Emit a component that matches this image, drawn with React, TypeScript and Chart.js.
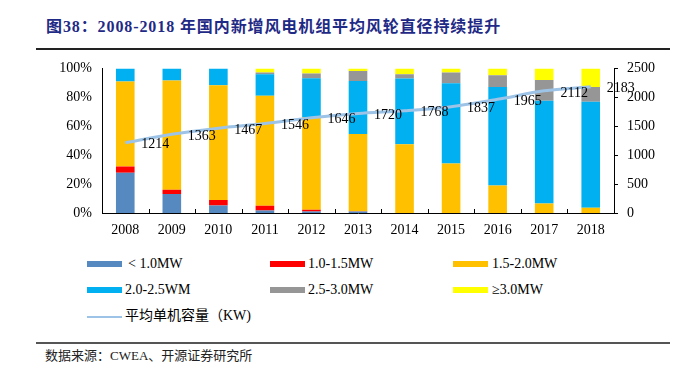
import React, { useEffect, useRef } from "react";
import { Chart, registerables } from "chart.js";

Chart.register(...registerables);

const years = ["2008", "2009", "2010", "2011", "2012", "2013", "2014", "2015", "2016", "2017", "2018"];
const below1 = [27.8, 13.1, 5.2, 1.8, 1.1, 1.0, 0, 0, 0, 0, 0];
const mw10to15 = [4.3, 2.9, 3.8, 3.2, 1.2, 0.2, 0, 0, 0, 0, 0];
const mw15to20 = [58.9, 75.6, 79.3, 76.0, 64.1, 53.4, 47.6, 34.3, 19.0, 6.5, 3.6];
const mw20to25 = [9.0, 8.4, 11.7, 14.9, 26.8, 36.6, 45.4, 55.5, 68.1, 71.2, 73.4];
const mw25to30 = [0, 0, 0, 1.2, 3.2, 7.0, 2.9, 7.3, 8.2, 14.2, 10.1];
const mwAbove3 = [0, 0, 0, 2.9, 3.6, 1.8, 4.1, 2.9, 4.7, 8.1, 12.9];
const avgCapacity = [1214, 1363, 1467, 1546, 1646, 1720, 1768, 1837, 1965, 2112, 2183];
const leftTicks = [0, 20, 40, 60, 80, 100];
const rightTicks = [0, 500, 1000, 1500, 2000, 2500];

const seriesNames = ["< 1.0MW", "1.0-1.5MW", "1.5-2.0MW", "2.0-2.5WM", "2.5-3.0MW", "≥3.0MW"];
const seriesColors = ["#5589BF", "#FF0000", "#FFC000", "#00B0F0", "#969696", "#FFFF00"];
const lineName = "平均单机容量（KW)";
const lineColor = "#9DC3E6";

const SERIF = '"Liberation Serif", "Times New Roman", "Noto Sans CJK SC", serif';

const labelPlugin = {
  id: "lineLabels",
  afterDatasetsDraw(chart: any) {
    const ctx = chart.ctx;
    const idx = chart.data.datasets.findIndex((d: any) => d.type === "line");
    if (idx < 0) return;
    const meta = chart.getDatasetMeta(idx);
    ctx.save();
    ctx.font = "14px " + SERIF;
    ctx.fillStyle = "#000";
    ctx.textAlign = "center";
    ctx.textBaseline = "middle";
    meta.data.forEach((pt: any, i: number) => {
      ctx.fillText(String(chart.data.datasets[idx].data[i]), pt.x + 30, pt.y + 2);
    });
    ctx.restore();
  },
};

const xTickPlugin = {
  id: "xInnerTicks",
  afterDraw(chart: any) {
    const ctx = chart.ctx;
    const xs = chart.scales.x;
    const bottom = chart.chartArea.bottom;
    const n = chart.data.labels.length;
    ctx.save();
    ctx.strokeStyle = "#000";
    ctx.lineWidth = 1;
    for (let i = 1; i < n; i++) {
      const x = Math.round((xs.getPixelForValue(i - 1) + xs.getPixelForValue(i)) / 2) + 0.5;
      ctx.beginPath();
      ctx.moveTo(x, bottom);
      ctx.lineTo(x, bottom - 4);
      ctx.stroke();
    }
    ctx.restore();
  },
};

export default function App() {
  const ref = useRef<HTMLCanvasElement | null>(null);

  useEffect(() => {
    if (!ref.current) return;
    const barData = [below1, mw10to15, mw15to20, mw20to25, mw25to30, mwAbove3];
    const datasets: any[] = barData.map((d, i) => ({
      type: "bar",
      label: seriesNames[i],
      data: d,
      backgroundColor: seriesColors[i],
      stack: "s",
      yAxisID: "y",
      order: 1,
      barPercentage: 0.4,
      categoryPercentage: 1,
      borderWidth: 0,
    }));
    datasets.push({
      type: "line",
      label: lineName,
      data: avgCapacity,
      borderColor: lineColor,
      backgroundColor: lineColor,
      borderWidth: 3,
      pointRadius: 0,
      tension: 0.3,
      yAxisID: "y1",
      order: 0,
    });
    const chart = new Chart(ref.current, {
      type: "bar",
      data: { labels: years, datasets },
      options: {
        animation: false,
        responsive: false,
        maintainAspectRatio: false,
        layout: { padding: { top: 16, left: 0, right: 0, bottom: 0 } },
        plugins: { legend: { display: false }, tooltip: { enabled: false } },
        scales: {
          x: {
            stacked: true,
            grid: { display: false, drawTicks: false },
            border: { display: true, color: "#000", width: 1 },
            ticks: { font: { family: SERIF, size: 14 }, color: "#000", padding: 9, maxRotation: 0 },
            afterFit: (s: any) => { s.height = 32; },
          },
          y: {
            stacked: true,
            position: "left",
            min: 0,
            max: 100,
            afterBuildTicks: (s: any) => { s.ticks = leftTicks.map((v) => ({ value: v })); },
            grid: { display: false, drawTicks: false },
            border: { display: true, color: "#000", width: 1 },
            ticks: { font: { family: SERIF, size: 14 }, color: "#000", padding: 10, callback: (v: any) => v + "%" },
            afterFit: (s: any) => { s.width = 102; },
          },
          y1: {
            position: "right",
            min: 0,
            max: 2500,
            afterBuildTicks: (s: any) => { s.ticks = rightTicks.map((v) => ({ value: v })); },
            grid: { display: true, drawOnChartArea: false, drawTicks: true, tickLength: 4, color: "#000" },
            border: { display: true, color: "#000", width: 1 },
            ticks: { font: { family: SERIF, size: 14 }, color: "#000", padding: 9, callback: (v: any) => String(v) },
            afterFit: (s: any) => { s.width = 68; },
          },
        },
      },
      plugins: [labelPlugin, xTickPlugin],
    } as any);
    return () => chart.destroy();
  }, []);

  const legendItems = [
    { name: seriesNames[0], color: seriesColors[0], x: 87, tx: 128, y: 264 },
    { name: seriesNames[1], color: seriesColors[1], x: 270, tx: 308, y: 264 },
    { name: seriesNames[2], color: seriesColors[2], x: 453, tx: 492, y: 264 },
    { name: seriesNames[3], color: seriesColors[3], x: 87, tx: 125, y: 290 },
    { name: seriesNames[4], color: seriesColors[4], x: 270, tx: 308, y: 290 },
    { name: seriesNames[5], color: seriesColors[5], x: 453, tx: 492, y: 290 },
  ];

  return (
    <div style={{ position: "absolute", left: 0, top: 0, width: 682, height: 368, background: "#fff", overflow: "hidden" }}>
      <div
        style={{
          position: "absolute",
          left: 46,
          top: 17,
          fontFamily: SERIF,
          fontWeight: "bold",
          fontSize: 16,
          letterSpacing: "0.9px",
          color: "#1F2A86",
          whiteSpace: "nowrap",
          lineHeight: "20px",
        }}
      >
        图38：2008-2018 年国内新增风电机组平均风轮直径持续提升
      </div>
      <div style={{ position: "absolute", left: 36, top: 48, width: 634, height: 2, background: "#222" }} />
      <canvas
        ref={ref}
        width={682}
        height={195}
        style={{ position: "absolute", left: 0, top: 50, width: 682, height: 195 }}
      />
      {legendItems.map((it, i) => (
        <React.Fragment key={i}>
          <div style={{ position: "absolute", left: it.x, top: it.y - 3, width: 35, height: 6, background: it.color }} />
          <div
            style={{
              position: "absolute",
              left: it.tx,
              top: it.y - 9,
              fontFamily: SERIF,
              fontSize: 14,
              lineHeight: "18px",
              color: "#000",
              whiteSpace: "nowrap",
            }}
          >
            {it.name}
          </div>
        </React.Fragment>
      ))}
      <div style={{ position: "absolute", left: 87, top: 316, width: 35, height: 2, background: lineColor }} />
      <div
        style={{
          position: "absolute",
          left: 125,
          top: 307,
          fontFamily: SERIF,
          fontSize: 14,
          lineHeight: "18px",
          color: "#000",
          whiteSpace: "nowrap",
        }}
      >
        {lineName}
      </div>
      <div style={{ position: "absolute", left: 36, top: 342, width: 634, height: 2, background: "#555" }} />
      <div
        style={{
          position: "absolute",
          left: 45,
          top: 347,
          fontFamily: SERIF,
          fontSize: 13,
          lineHeight: "18px",
          color: "#222",
          whiteSpace: "nowrap",
        }}
      >
        数据来源：CWEA、开源证券研究所
      </div>
    </div>
  );
}
